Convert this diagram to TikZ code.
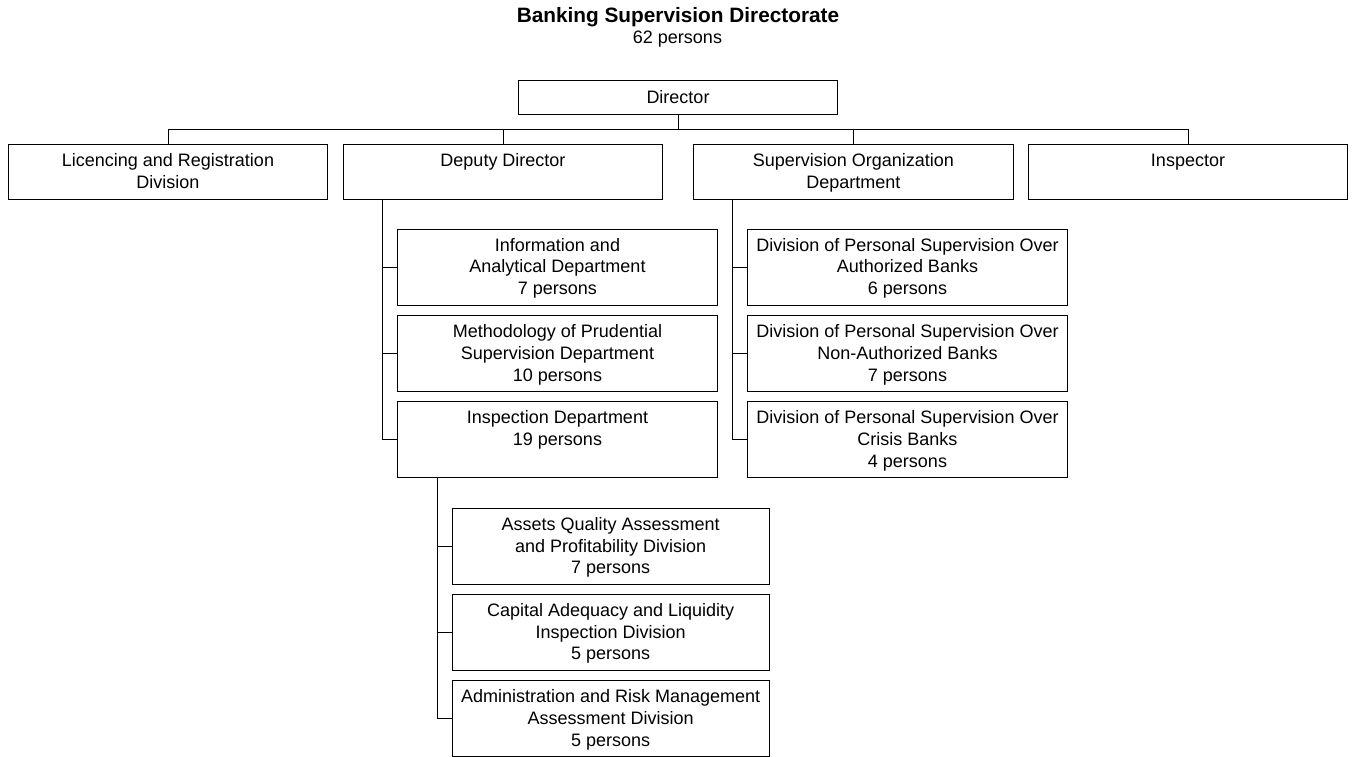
\documentclass[tikz,border=0pt]{standalone}
\usepackage{fontspec}
\setmainfont{Liberation Sans}
\newcommand{\orgtext}[3]{\parbox[c][#2][t]{#1}{\centering\vspace*{7.1pt}\strut #3}}
\tikzset{
  orgbox/.style={draw, line width=1pt, inner sep=0pt, outer sep=0pt, anchor=north west, font=\fontsize{18}{21.6}\selectfont},
  link/.style={line width=1pt},
  txt/.style={inner sep=0pt, anchor=base}
}
\begin{document}
\begin{tikzpicture}[x=1pt,y=-1pt]
\useasboundingbox (0,0) rectangle (1352,757);
% title
\node[txt, font=\fontsize{20.8}{24}\selectfont\bfseries] (title) at (678,22.3) {Banking Supervision Directorate};
\node[txt, font=\fontsize{18}{21.6}\selectfont] (sub) at (677.5,44) {62 persons};
% level 0
\node[orgbox] (dir) at (518.3,81) {\orgtext{319.4pt}{33.3pt}{Director}};
% level 1
\node[orgbox] (lic) at (8.3,144.3) {\orgtext{319.4pt}{55pt}{Licencing and Registration\\Division}};
\node[orgbox] (dep) at (343.3,144.3) {\orgtext{319.4pt}{55pt}{Deputy Director}};
\node[orgbox] (sup) at (693.7,144.3) {\orgtext{319.4pt}{55pt}{Supervision Organization\\Department}};
\node[orgbox] (ins) at (1028.3,144.3) {\orgtext{319.4pt}{55pt}{Inspector}};
% deputy children
\node[orgbox] (info) at (397.7,229) {\orgtext{319.6pt}{76pt}{Information and\\Analytical Department\\7 persons}};
\node[orgbox] (meth) at (397.7,315.7) {\orgtext{319.6pt}{76pt}{Methodology of Prudential\\Supervision Department\\10 persons}};
\node[orgbox] (insp) at (397.7,401.7) {\orgtext{319.6pt}{76pt}{Inspection Department\\19 persons}};
% supervision org children
\node[orgbox] (auth) at (747.7,229) {\orgtext{319.6pt}{76pt}{Division of Personal Supervision Over\\Authorized Banks\\6 persons}};
\node[orgbox] (nonauth) at (747.7,315.7) {\orgtext{319.6pt}{76pt}{Division of Personal Supervision Over\\Non-Authorized Banks\\7 persons}};
\node[orgbox] (crisis) at (747.7,401.7) {\orgtext{319.6pt}{76pt}{Division of Personal Supervision Over\\Crisis Banks\\4 persons}};
% inspection children
\node[orgbox] (assets) at (452.3,508.3) {\orgtext{316.7pt}{76pt}{Assets Quality Assessment\\and Profitability Division\\7 persons}};
\node[orgbox] (capital) at (452.3,594.3) {\orgtext{316.7pt}{76pt}{Capital Adequacy and Liquidity\\Inspection Division\\5 persons}};
\node[orgbox] (admin) at (452.3,680.7) {\orgtext{316.7pt}{76pt}{Administration and Risk Management\\Assessment Division\\5 persons}};
% connectors
\draw[link] (dir.south) -- ++(0,15) coordinate (bus);
\draw[link] (bus) -| (lic.north);
\draw[link] (bus) -| (dep.north);
\draw[link] (bus) -| (sup.north);
\draw[link] (bus) -| (ins.north);
\coordinate (depspine) at ([xshift=39.4pt]dep.south west);
\draw[link] (depspine) |- (info.west);
\draw[link] (depspine) |- (meth.west);
\draw[link] (depspine) |- (insp.west);
\coordinate (supspine) at ([xshift=39pt]sup.south west);
\draw[link] (supspine) |- (auth.west);
\draw[link] (supspine) |- (nonauth.west);
\draw[link] (supspine) |- (crisis.west);
\coordinate (inspspine) at ([xshift=39.6pt]insp.south west);
\draw[link] (inspspine) |- (assets.west);
\draw[link] (inspspine) |- (capital.west);
\draw[link] (inspspine) |- (admin.west);
\end{tikzpicture}
\end{document}
